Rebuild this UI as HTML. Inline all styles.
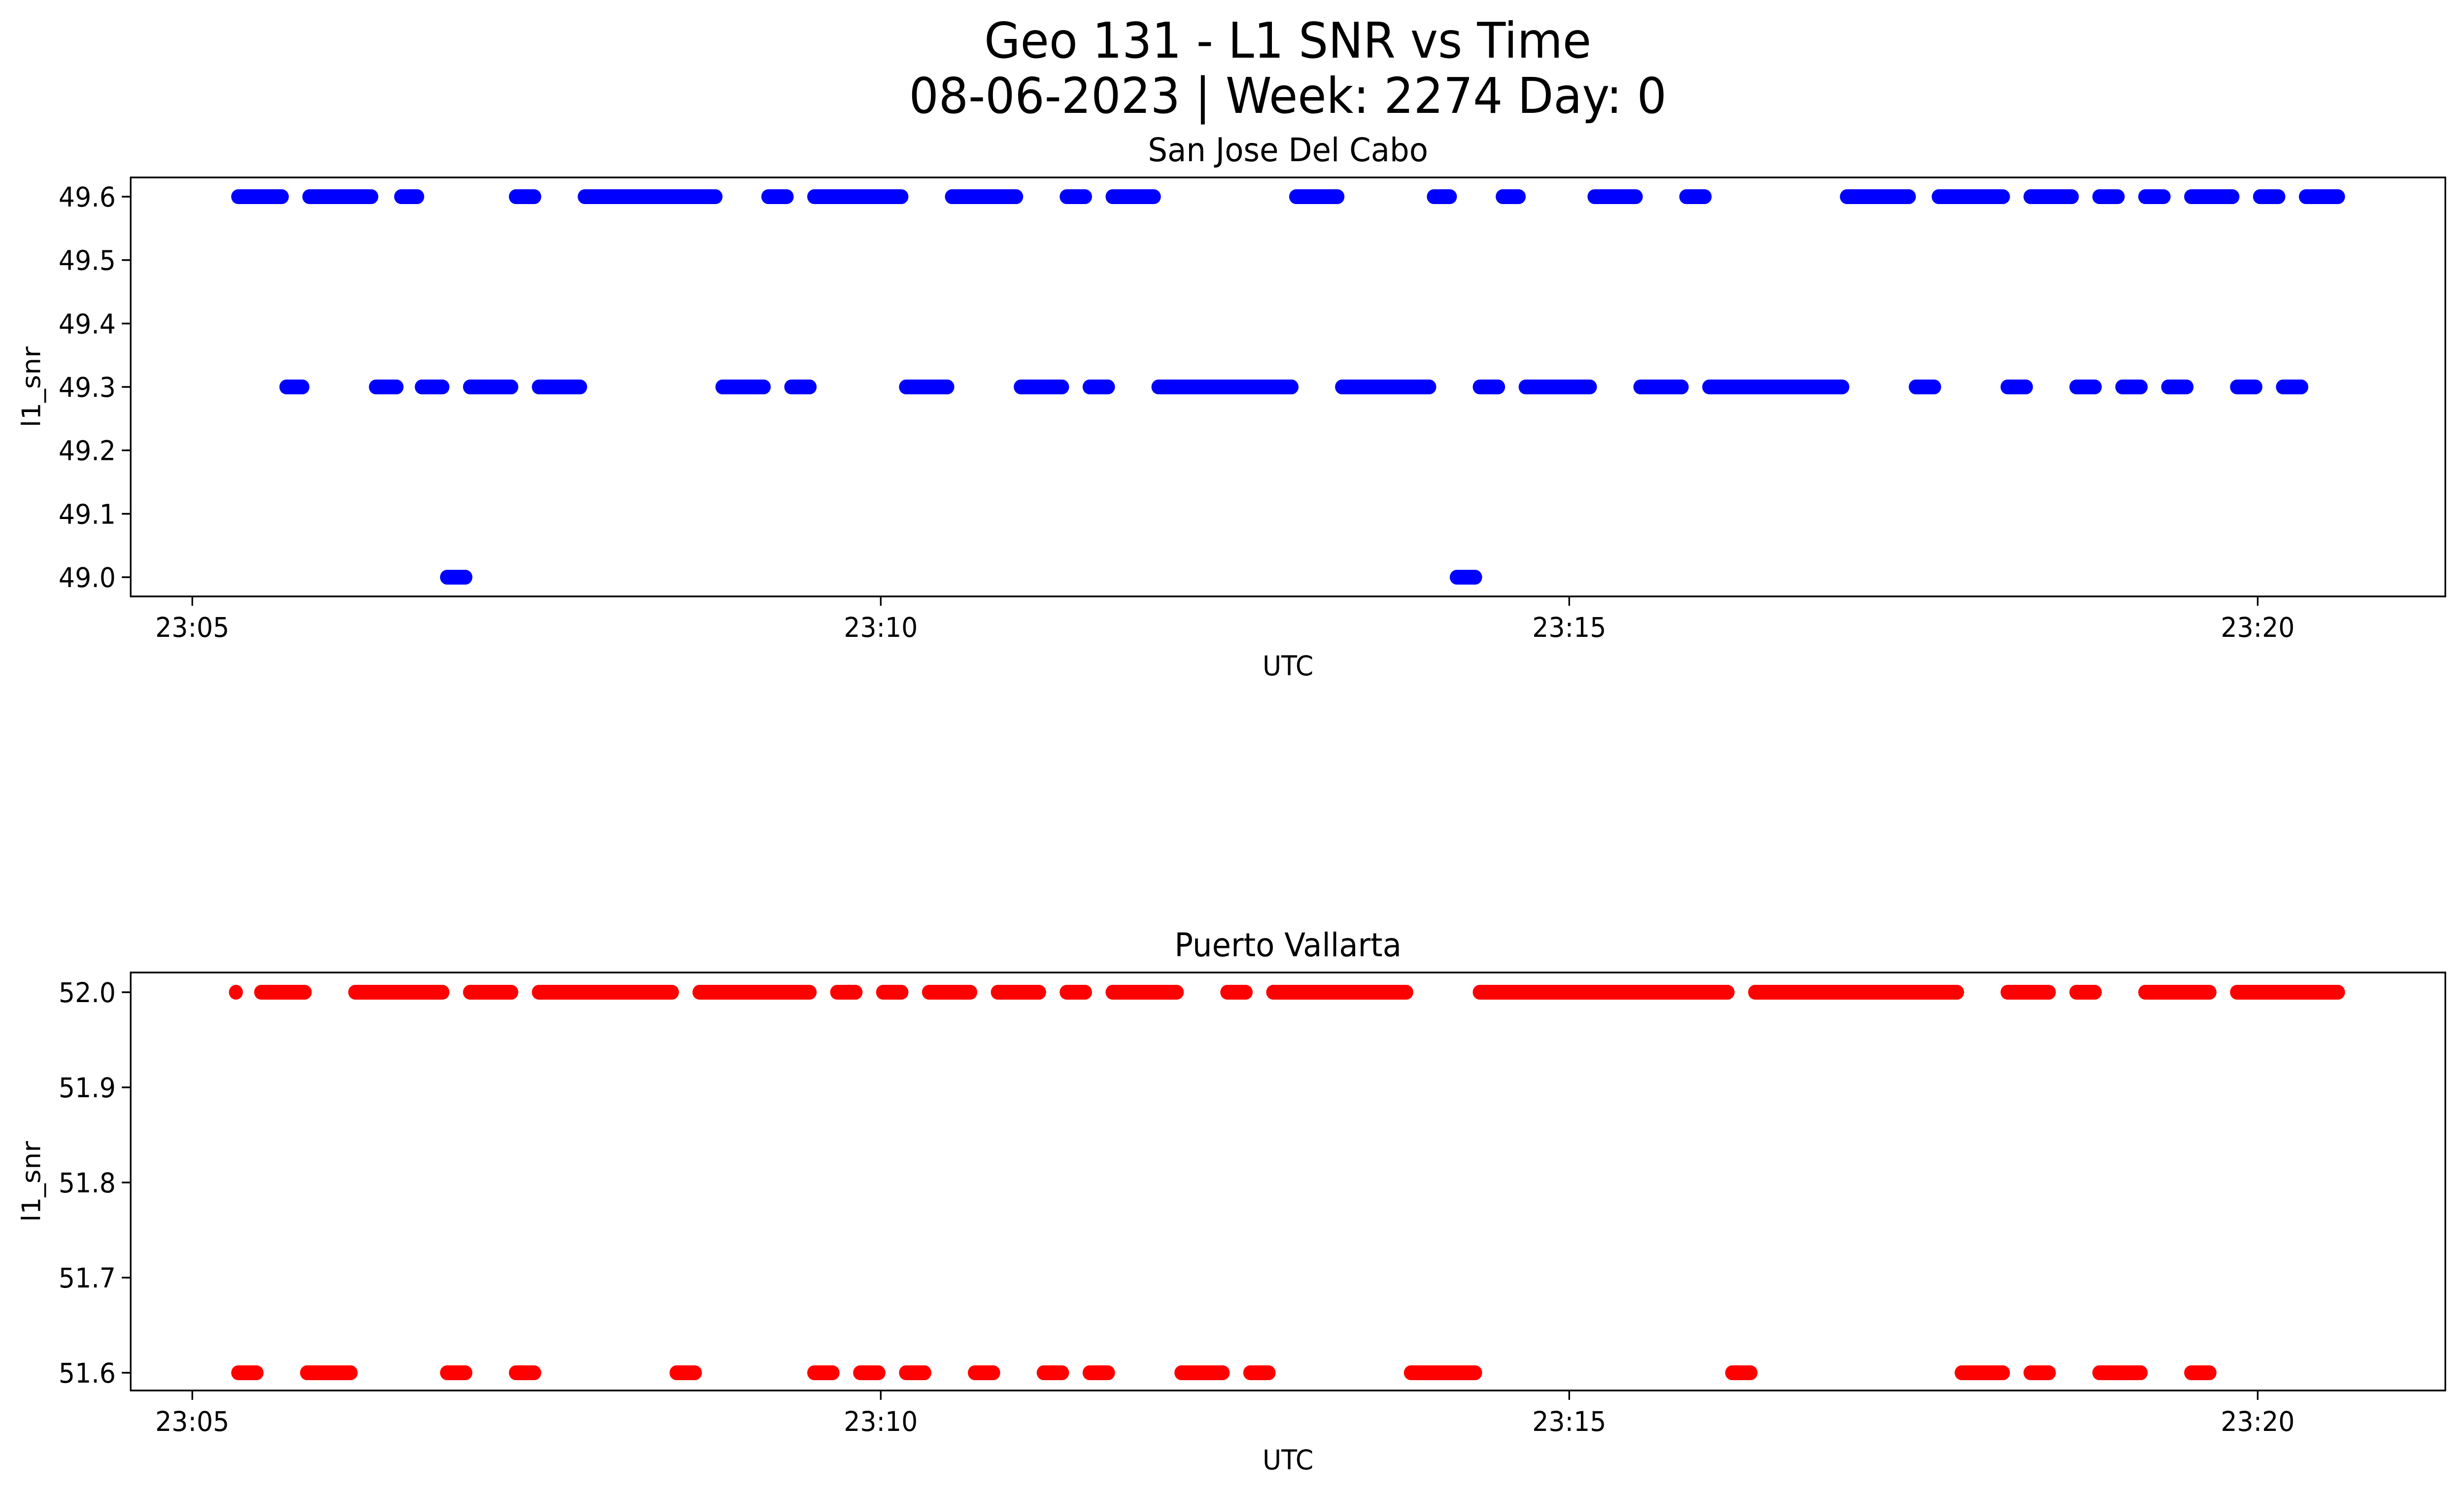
<!DOCTYPE html>
<html><head><meta charset="utf-8"><style>
html,body{margin:0;padding:0;background:#fff;overflow:hidden;width:100%;height:100%;}
svg{display:block;width:100vw;height:100vh;font-family:"DejaVu Sans","Liberation Sans",sans-serif;}
</style></head><body>
<svg id="fig" viewBox="0 0 5279 3033" preserveAspectRatio="none" xmlns="http://www.w3.org/2000/svg">
<rect width="5279" height="3033" fill="#fff"/>
<text x="2759" y="117" font-size="100" text-anchor="middle">Geo 131 - L1 SNR vs Time</text>
<text x="2759" y="229" font-size="100" text-anchor="middle">08-06-2023 | Week: 2274 Day: 0</text>
<g id="top"></g>
<g id="bot"></g>
</svg>
<script>
// seconds after 23:05:00, [start, end]
const sjTimes496 = [[20,39],[51,78],[91,98],[141,149],[171,228],[251,259],[271,309],[331,359],[381,389],[401,419],[481,499],[541,548],[571,578],[611,629],[651,659],[721,748],[761,789],[801,819],[831,839],[851,859],[871,889],[901,909],[921,935]];
const sjTimes493 = [[41,48],[80,89],[100,109],[121,139],[151,169],[231,249],[261,269],[311,329],[361,379],[391,399],[421,479],[501,539],[561,569],[581,609],[631,649],[661,719],[751,759],[791,799],[821,829],[841,849],[861,869],[891,899],[911,919]];
const sjTimes490 = [[111,119],[551,559]];
const pvTimes520 = [[19,19],[30,49],[71,109],[121,139],[151,209],[221,269],[281,289],[301,309],[321,339],[351,369],[381,389],[401,429],[451,459],[471,529],[561,669],[681,769],[791,809],[821,829],[851,879],[891,935]];
const pvTimes516 = [[20,28],[50,69],[111,119],[141,149],[211,219],[271,279],[291,299],[311,319],[341,349],[371,379],[391,399],[431,449],[461,469],[531,559],[671,679],[771,789],[801,809],[831,849],[871,879]];
const xTickSeconds = [0,300,600,900];
const xTickLabels = ["23:05","23:10","23:15","23:20"];
const sjYTicks = [49.0,49.1,49.2,49.3,49.4,49.5,49.6];
const pvYTicks = [51.6,51.7,51.8,51.9,52.0];

const NS="http://www.w3.org/2000/svg";
function mk(parent,tag,attrs){const e=document.createElementNS(NS,tag);for(const k in attrs)e.setAttribute(k,attrs[k]);parent.appendChild(e);return e;}
const X0=280,X1=5239;
function xs(sec){return 412+sec*(1475/300);}

function panel(g,top,bottom,yAt,yTicks,dec,title,series,color){
  const ys=v=>yAt[0][1]+(v-yAt[0][0])*(yAt[1][1]-yAt[0][1])/(yAt[1][0]-yAt[0][0]);
  series.forEach(s=>{
    s.segs.forEach(seg=>{
      const l=mk(g,'line',{x1:xs(seg[0]),x2:xs(seg[1]),y1:ys(s.v),y2:ys(s.v),stroke:color,'stroke-width':30,'stroke-linecap':'round'});
      
      
    });
  });
  const fr=mk(g,'rect',{x:X0,y:top,width:X1-X0,height:bottom-top,fill:'none',stroke:'#000','stroke-width':3.5});
  
  
  yTicks.forEach(v=>{
    const y=ys(v);
    const t=mk(g,'line',{x1:X0-19,x2:X0,y1:y,y2:y,stroke:'#000','stroke-width':3.5});
    
    
    const tx=mk(g,'text',{x:X0-32,y:y+20,'font-size':55,'text-anchor':'end'});
    
    
    tx.textContent=v.toFixed(dec);
  });
  xTickSeconds.forEach((s,i)=>{
    const x=xs(s);
    const t=mk(g,'line',{x1:x,x2:x,y1:bottom,y2:bottom+19,stroke:'#000','stroke-width':3.5});
    
    
    const tx=mk(g,'text',{x:x,y:bottom+82,'font-size':55,'text-anchor':'middle'});
    
    
    tx.textContent=xTickLabels[i];
  });
  const xl=mk(g,'text',{x:(X0+X1)/2,y:bottom+160,'font-size':55,'text-anchor':'middle'});
  
  
  xl.textContent='UTC';
  const cy=(top+bottom)/2;
  const yl=mk(g,'text',{x:0,y:0,'font-size':55,'text-anchor':'middle',transform:`translate(86,${cy}) rotate(-90)`});
  
  
  yl.textContent='l1_snr';
  const tt=mk(g,'text',{x:(X0+X1)/2,y:top-33,'font-size':66,'text-anchor':'middle'});
  
  
  tt.textContent=title;
}
panel(document.getElementById('top'),360,1210,[[49.6,399],[49.0,1171]],sjYTicks,1,'San Jose Del Cabo',
  [{v:49.6,segs:sjTimes496},{v:49.3,segs:sjTimes493},{v:49.0,segs:sjTimes490}],'#0000ff');
panel(document.getElementById('bot'),1973,2821,[[52.0,2013],[51.6,2785]],pvYTicks,1,'Puerto Vallarta',
  [{v:52.0,segs:pvTimes520},{v:51.6,segs:pvTimes516}],'#ff0000');
</script>
</body></html>
